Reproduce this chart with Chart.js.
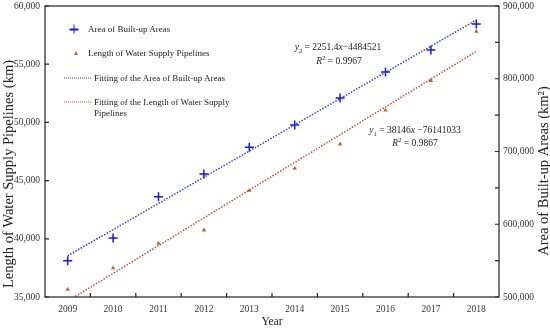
<!DOCTYPE html>
<html lang="en">
<head>
  <meta charset="UTF-8" />
  <title>Built-up Areas and Water Supply Pipelines</title>
  <script src="https://cdn.jsdelivr.net/npm/chart.js"></script>
  <style>
    body { margin: 0; background: #fff; }
    #wrap {
      position: relative; width: 550px; height: 331px;
      font-family: "Liberation Serif", "Times New Roman", serif; color: #222;
    }
    #wrap canvas { position: absolute; left: 0; top: 0; }
    .txt { position: absolute; font-size: 9px; line-height: 10.5px; white-space: nowrap; transform: translateY(-50%); }
    .eq { position: absolute; font-size: 9.5px; white-space: nowrap; transform: translate(-50%, -50%); }
    .eq sub, .eq sup { font-size: 6.5px; line-height: 0; }
    .plus { position: absolute; width: 9px; height: 9px; transform: translate(-50%, -50%); }
    .plus::before, .plus::after { content: ""; position: absolute; background: #1515e8; }
    .plus::before { left: 0; top: 4px; width: 9px; height: 1.5px; }
    .plus::after { left: 3.75px; top: 0; width: 1.5px; height: 9px; }
    .tri {
      position: absolute; width: 0; height: 0; transform: translate(-50%, -50%);
      border-left: 2.5px solid transparent; border-right: 2.5px solid transparent;
      border-bottom: 4.5px solid #b06a30;
    }
    .dots { position: absolute; width: 27px; height: 0; transform: translateY(-50%); }
  </style>
</head>
<body>
  <div id="wrap">
    <canvas id="chart" width="550" height="331"></canvas>

    <!-- legend -->
    <div class="plus" style="left:74px; top:29px;"></div>
    <div class="txt" style="left:88px; top:29px;">Area of Built-up Areas</div>
    <div class="tri" style="left:75.5px; top:53px;"></div>
    <div class="txt" style="left:88px; top:53px;">Length of Water Supply Pipelines</div>
    <div class="dots" style="left:64px; top:77.5px; border-top:1.5px dotted #3b3bd6;"></div>
    <div class="txt" style="left:94px; top:77.5px;">Fitting of the Area of Built-up Areas</div>
    <div class="dots" style="left:64px; top:102px; border-top:1.5px dotted #c0503c;"></div>
    <div class="txt" style="left:94px; top:107px;">Fitting of the Length of Water Supply<br>Pipelines</div>

    <!-- regression equations -->
    <div class="eq" style="left:338px; top:47px;"><i>y</i><sub>2</sub> = 2251.4<i>x</i>−4484521</div>
    <div class="eq" style="left:339px; top:61px;"><i>R</i><sup>2</sup> = 0.9967</div>
    <div class="eq" style="left:415px; top:130px;"><i>y</i><sub>1</sub> = 38146<i>x</i> −76141033</div>
    <div class="eq" style="left:415px; top:142.5px;"><i>R</i><sup>2</sup> = 0.9867</div>
  </div>

  <script>
    // data
    const years = ['2009', '2010', '2011', '2012', '2013', '2014', '2015', '2016', '2017', '2018'];
    const builtUpArea = [38107, 40058, 43603, 45566, 47855, 49773, 52102, 54332, 56225, 58456];
    const pipeLength = [510399, 539778, 573774, 591872, 646413, 676727, 710206, 756623, 797355, 865017];
    // end points of the two fitted lines (2009 and 2018)
    const fitAreaEnds = [38542, 58804];
    const fitPipeEnds = [494281, 837595];

    const serif = '"Liberation Serif", "Times New Roman", serif';
    const tickFont = { family: serif, size: 9.5 };

    // inward tick marks, frame and axis titles
    const frameAndTitles = {
      id: 'frameAndTitles',
      afterDraw(chart) {
        const { ctx, chartArea: a, scales } = chart;
        ctx.save();
        ctx.strokeStyle = '#222';
        ctx.lineWidth = 1.2;
        ctx.strokeRect(a.left, a.top, a.right - a.left, a.bottom - a.top);

        ctx.beginPath();
        scales.y.ticks.forEach(t => {
          const p = scales.y.getPixelForValue(t.value);
          ctx.moveTo(a.left, p); ctx.lineTo(a.left + 4, p);
        });
        scales.y1.ticks.forEach(t => {
          const p = scales.y1.getPixelForValue(t.value);
          ctx.moveTo(a.right, p); ctx.lineTo(a.right - 4, p);
        });
        for (let i = 1; i < years.length; i++) {
          const p = (scales.x.getPixelForValue(i - 1) + scales.x.getPixelForValue(i)) / 2;
          ctx.moveTo(p, a.bottom); ctx.lineTo(p, a.bottom - 4);
        }
        ctx.stroke();

        ctx.fillStyle = '#222';
        ctx.textAlign = 'center';
        ctx.textBaseline = 'middle';
        ctx.font = '14.5px ' + serif;
        ctx.save();
        ctx.translate(9, 174);
        ctx.rotate(-Math.PI / 2);
        ctx.fillText('Length of Water Supply Pipelines (km)', 0, 0);
        ctx.restore();
        ctx.save();
        ctx.translate(544, 171);
        ctx.rotate(-Math.PI / 2);
        ctx.fillText('Area of Built-up Areas (km²)', 0, 0);
        ctx.restore();
        ctx.font = '11.5px ' + serif;
        ctx.fillText('Year', (a.left + a.right) / 2, 322);
        ctx.restore();
      }
    };

    new Chart(document.getElementById('chart'), {
      type: 'line',
      data: {
        labels: years,
        datasets: [
          {
            label: 'Fitting of the Area of Built-up Areas',
            data: [{ x: years[0], y: fitAreaEnds[0] }, { x: years[years.length - 1], y: fitAreaEnds[1] }],
            yAxisID: 'y',
            borderColor: '#3b3bd6',
            borderWidth: 1.5,
            borderDash: [1.5, 1.5],
            pointRadius: 0
          },
          {
            label: 'Fitting of the Length of Water Supply Pipelines',
            data: [{ x: years[0], y: fitPipeEnds[0] }, { x: years[years.length - 1], y: fitPipeEnds[1] }],
            yAxisID: 'y1',
            borderColor: '#c0503c',
            borderWidth: 1.5,
            borderDash: [1.5, 1.5],
            pointRadius: 0
          },
          {
            label: 'Area of Built-up Areas',
            data: builtUpArea,
            yAxisID: 'y',
            showLine: false,
            pointStyle: 'cross',
            pointRadius: 4.5,
            pointBorderWidth: 1.5,
            pointBorderColor: '#1515e8',
            pointBackgroundColor: '#1515e8'
          },
          {
            label: 'Length of Water Supply Pipelines',
            data: pipeLength,
            yAxisID: 'y1',
            showLine: false,
            pointStyle: 'triangle',
            pointRadius: 2.6,
            pointBorderWidth: 0,
            pointBorderColor: '#b06a30',
            pointBackgroundColor: '#b06a30'
          }
        ]
      },
      options: {
        responsive: false,
        animation: false,
        layout: { padding: { top: 4, left: 0, right: 0, bottom: 0 } },
        plugins: {
          legend: { display: false },
          tooltip: { enabled: false }
        },
        scales: {
          x: {
            type: 'category',
            offset: true,
            grid: { display: false, drawTicks: false },
            border: { display: false },
            ticks: { font: tickFont, color: '#333', padding: 7, maxRotation: 0 },
            afterFit(s) { s.height = 34; s.paddingLeft = 0; s.paddingRight = 0; }
          },
          y: {
            position: 'left',
            min: 35000,
            max: 60000,
            grid: { display: false, drawTicks: false },
            border: { display: false },
            ticks: {
              stepSize: 5000,
              font: tickFont,
              color: '#333',
              padding: 5,
              callback: v => v.toLocaleString('en-US')
            },
            afterFit(s) { s.width = 45; s.paddingTop = 0; s.paddingBottom = 0; }
          },
          y1: {
            position: 'right',
            min: 500000,
            max: 900000,
            grid: { display: false, drawTicks: false },
            border: { display: false },
            ticks: {
              stepSize: 50000,
              autoSkip: false,
              font: tickFont,
              color: '#333',
              padding: 4,
              callback: v => (v % 100000 === 0 ? v.toLocaleString('en-US') : '')
            },
            afterFit(s) { s.width = 51; s.paddingTop = 0; s.paddingBottom = 0; }
          }
        }
      },
      plugins: [frameAndTitles]
    });
  </script>
</body>
</html>
